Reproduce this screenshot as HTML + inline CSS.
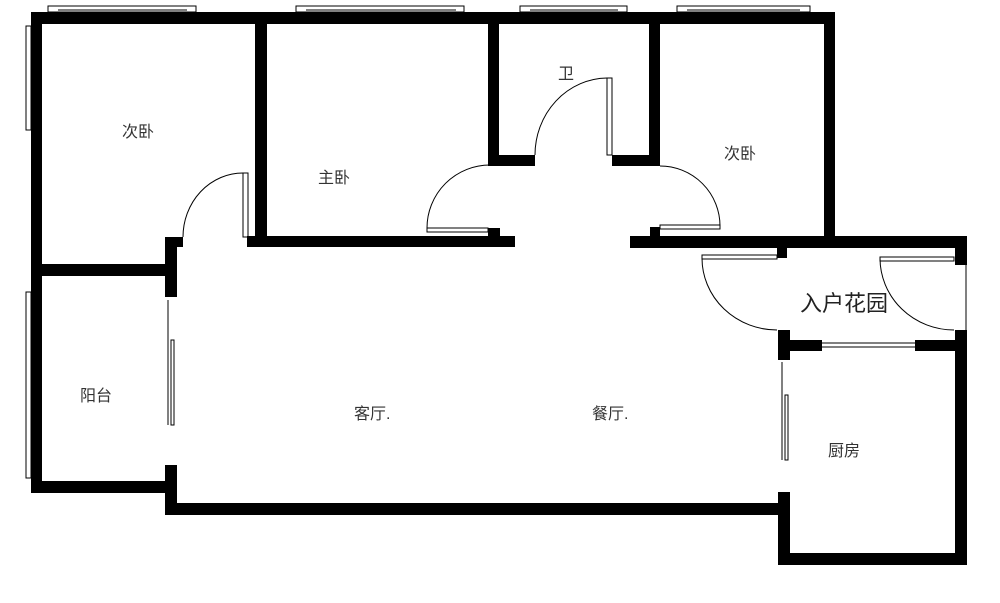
<!DOCTYPE html>
<html><head><meta charset="utf-8"><style>
body{margin:0;background:#fff}
svg text{font-family:"Liberation Sans","Noto Sans CJK SC",sans-serif;fill:#333}
</style></head><body>
<svg width="1000" height="598" viewBox="0 0 1000 598" xmlns="http://www.w3.org/2000/svg">
<g fill="#000">
<!-- top wall -->
<rect x="31" y="12" width="804" height="12"/>
<!-- left outer wall -->
<rect x="31" y="12" width="11" height="481"/>
<!-- left bedroom / master wall -->
<rect x="255" y="12" width="12" height="235"/>
<!-- master bottom wall -->
<rect x="247" y="236" width="268" height="11"/>
<!-- bath walls -->
<rect x="488" y="12" width="11" height="154"/>
<rect x="488" y="155" width="47" height="11"/>
<rect x="612" y="155" width="48" height="11"/>
<rect x="649" y="12" width="11" height="154"/>
<rect x="488" y="228" width="12" height="19"/>
<!-- right bedroom -->
<rect x="824" y="12" width="11" height="236"/>
<rect x="630" y="236" width="337" height="12"/>
<rect x="650" y="227" width="10" height="20"/>
<!-- left bedroom door stub + wall -->
<rect x="165" y="237" width="18" height="10"/>
<rect x="165" y="237" width="12" height="60"/>
<rect x="31" y="264" width="146" height="12"/>
<!-- balcony -->
<rect x="31" y="481" width="146" height="12"/>
<rect x="165" y="465" width="12" height="50"/>
<!-- bottom wall -->
<rect x="165" y="503" width="625" height="12"/>
<!-- kitchen -->
<rect x="778" y="492" width="12" height="73"/>
<rect x="778" y="553" width="189" height="12"/>
<rect x="955" y="330" width="12" height="235"/>
<rect x="955" y="237" width="12" height="28"/>
<rect x="778" y="330" width="12" height="30"/>
<rect x="778" y="340" width="44" height="11"/>
<rect x="915" y="340" width="50" height="11"/>
<rect x="777" y="247" width="10" height="11"/>
</g>
<g fill="none" stroke="#000" stroke-width="1">
<!-- top windows -->
<rect x="48" y="6" width="148" height="6"/><line x1="58" y1="10" x2="187" y2="10"/>
<rect x="296" y="6" width="168" height="6"/><line x1="306" y1="10" x2="456" y2="10"/>
<rect x="520" y="6" width="107" height="6"/><line x1="530" y1="10" x2="618" y2="10"/>
<rect x="677" y="6" width="133" height="6"/><line x1="687" y1="10" x2="800" y2="10"/>
<!-- left windows -->
<rect x="26" y="26" width="5" height="104"/><line x1="36" y1="36" x2="36" y2="122"/>
<rect x="26" y="292" width="5" height="186"/><line x1="36" y1="300" x2="36" y2="470"/>
<!-- kitchen window -->
<line x1="822" y1="343" x2="915" y2="343"/><line x1="822" y1="347" x2="915" y2="347"/>
<!-- doors: leaves -->
<rect x="243" y="173" width="5" height="64"/>
<path d="M183 237 A60 64 0 0 1 243 173"/>
<rect x="427" y="228" width="61" height="4"/>
<path d="M427 228 A63 63 0 0 1 490 165"/>
<rect x="607" y="78" width="5" height="77"/>
<path d="M535 155 A73 77 0 0 1 607 78"/>
<rect x="660" y="225" width="60" height="4"/>
<path d="M660 166 A60 60 0 0 1 720 226"/>
<rect x="702" y="255" width="75" height="4"/>
<path d="M702 258 A75 72 0 0 0 777 330"/>
<rect x="880" y="257" width="74" height="4"/>
<path d="M880 258 A74 72 0 0 0 954 330"/>
<line x1="966" y1="265" x2="966" y2="330"/>
<!-- sliding doors -->
<line x1="168" y1="300" x2="168" y2="425"/><rect x="171" y="340" width="3" height="85"/>
<line x1="782" y1="362" x2="782" y2="460"/><rect x="785" y="395" width="3" height="65"/>
</g>
<g font-size="16">
<text x="122" y="137">次卧</text>
<text x="318" y="183">主卧</text>
<text x="558" y="79">卫</text>
<text x="724" y="159">次卧</text>
<text x="80" y="401">阳台</text>
<text x="354" y="419">客厅.</text>
<text x="592" y="419">餐厅.</text>
<text x="828" y="456">厨房</text>
<text x="800" y="311" font-size="22" style="fill:#222">入户花园</text>
</g>
</svg>
</body></html>
